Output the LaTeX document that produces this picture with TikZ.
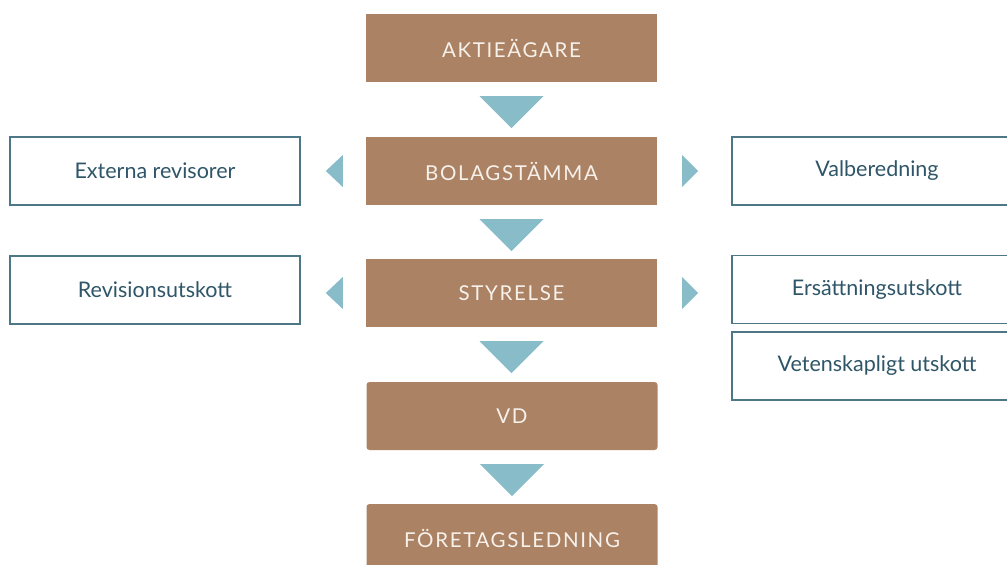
\documentclass[tikz,border=0pt]{standalone}
\usepackage{fontspec}
\setmainfont{Lato}
\newfontfamily\capsfont[LetterSpace=8]{Lato}
\usetikzlibrary{calc}
\definecolor{brownc}{HTML}{AB8263}
\definecolor{arrowc}{HTML}{88BCC9}
\definecolor{linec}{HTML}{4D7687}
\definecolor{textc}{HTML}{2F5668}
\definecolor{lighttext}{HTML}{F7F1EC}
\begin{document}
\begin{tikzpicture}[x=1pt,y=-1pt,
  mainbox/.style={fill=brownc, minimum width=291pt, minimum height=68pt, inner sep=0pt, text=lighttext, font=\capsfont\fontsize{20.5}{22}\selectfont},
  roundbox/.style={mainbox, rounded corners=3pt},
  sidebox/.style={draw=linec, line width=1.4pt, fill=white, minimum width=290pt, minimum height=68pt, inner sep=0pt, text=textc, font=\fontsize{21.5}{24}\selectfont},
  tri/.style={fill=arrowc}
]
\useasboundingbox (0,0) rectangle (1007,565);
\clip (0,0) rectangle (1007,565);

\node[mainbox] (a) at (511.5,48) {AKTIEÄGARE};
\node[mainbox] (b) at (511.5,171) {BOLAGSTÄMMA};
\node[mainbox] (s) at (511.5,293) {STYRELSE};
\node[roundbox] (v) at (512,416) {VD};
\node[roundbox] (f) at (512,538) {FÖRETAGSLEDNING};

\node[sidebox] (er) at (155,171) {Externa revisorer};
\node[sidebox] (vb) at (877,171) {Valberedning};
\node[sidebox] (ru) at (155,290) {Revisionsutskott};
\node[sidebox] (eu) at (877,289.5) {Ersättningsutskott};
\node[sidebox] (vu) at (877,366) {Vetenskapligt utskott};

% down triangles
\foreach \n in {a,b,s,v}{
  \fill[tri] ($(\n.south)+(-32,14)$) -- ($(\n.south)+(32,14)$) -- ($(\n.south)+(0,46)$) -- cycle;
}
% side triangles
\foreach \n in {b,s}{
  \fill[tri] ($(\n.west)+(-23,-16)$) -- ($(\n.west)+(-23,16)$) -- ($(\n.west)+(-40,0)$) -- cycle;
  \fill[tri] ($(\n.east)+(25,-16)$) -- ($(\n.east)+(25,16)$) -- ($(\n.east)+(41,0)$) -- cycle;
}
\end{tikzpicture}
\end{document}
